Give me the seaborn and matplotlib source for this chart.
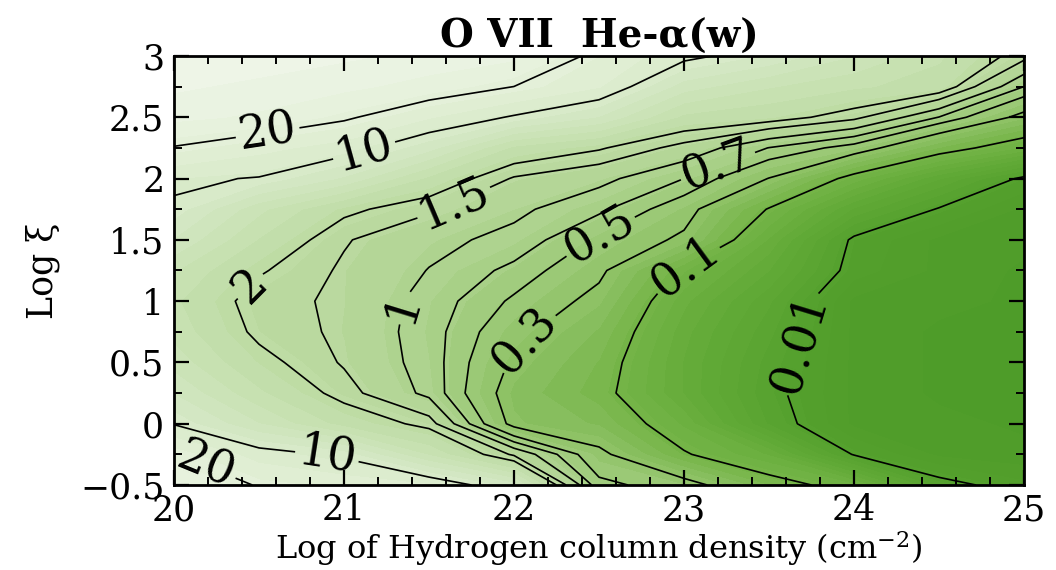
import numpy as np
import matplotlib
matplotlib.use("Agg")
import matplotlib.pyplot as plt
from matplotlib.ticker import MultipleLocator, FuncFormatter
import seaborn as sns

# Grid of log column density (x) and log ionisation parameter (y)
log_nh = [20.0, 20.5, 21.0, 21.5, 22.0, 22.5, 23.0, 23.5, 24.0, 24.5, 25.0]
log_xi = [-0.5, -0.25, 0.0, 0.25, 0.5, 0.75, 1.0, 1.25, 1.5, 1.75,
          2.0, 2.25, 2.5, 2.75, 3.0]

# log10 of the line ratio on that grid (one row per log xi value)
log_ratio = [
    [1.50, 1.284, 1.22, 1.15, 0.85, -0.25, -0.40, -0.85, -1.15, -1.90, -2.13],
    [1.31, 1.08, 0.966, 0.57, 0.15, -0.45, -0.97, -1.30, -2.02, -2.30, -2.35],
    [0.99, 0.70, 0.43, 0.25, -0.60, -0.75, -1.20, -1.85, -2.30, -2.35, -2.40],
    [0.80, 0.50, 0.238, -0.044, -0.65, -0.90, -1.40, -1.92, -2.30, -2.40, -2.40],
    [0.65, 0.361, 0.16, -0.069, -0.56, -0.85, -1.40, -1.88, -2.30, -2.40, -2.40],
    [0.55, 0.26, 0.146, -0.082, -0.45, -0.75, -1.35, -1.80, -2.30, -2.40, -2.40],
    [0.50, 0.224, 0.151, -0.065, -0.33, -0.60, -1.25, -1.70, -2.30, -2.35, -2.40],
    [0.60, 0.32, 0.153, -0.006, -0.20, -0.47, -1.05, -1.50, -2.10, -2.30, -2.40],
    [0.80, 0.47, 0.19, 0.05, -0.05, -0.33, -0.57, -1.30, -2.05, -2.30, -2.35],
    [0.976, 0.62, 0.344, 0.20, 0.04, -0.12, -0.42, -1.02, -1.63, -2.02, -2.30],
    [1.03, 0.99, 0.79, 0.45, 0.16, 0.05, -0.155, -0.53, -1.11, -1.60, -2.05],
    [1.29, 1.18, 1.08, 0.85, 0.45, 0.32, 0.12, -0.16, -0.376, -0.85, -1.20],
    [1.50, 1.45, 1.33, 1.15, 0.98, 0.80, 0.45, 0.38, 0.22, -0.16, -0.60],
    [1.60, 1.55, 1.50, 1.42, 1.30, 1.15, 0.75, 0.60, 0.50, 0.42, -0.155],
    [1.70, 1.65, 1.60, 1.55, 1.50, 1.25, 1.05, 0.90, 0.70, 0.50, 0.23],
]

# Contour levels (ratio values) and their printed labels
ratio_levels = [0.01, 0.1, 0.3, 0.5, 0.7, 1.0, 1.5, 2.0, 10.0, 20.0]
level_labels = ["0.01", "0.1", "0.3", "0.5", "0.7", "1", "1.5", "2", "10", "20"]

# Where each label sits along its contour
label_spots = {
    "20": [(20.55, 2.38), (20.2, -0.3)],
    "10": [(21.12, 2.22), (20.9, -0.26)],
    "2": [(20.45, 1.12)],
    "1.5": [(21.62, 1.88)],
    "1": [(21.35, 0.95)],
    "0.7": [(23.2, 2.1)],
    "0.5": [(22.5, 1.55)],
    "0.3": [(22.05, 0.7)],
    "0.1": [(23.0, 1.3)],
    "0.01": [(23.72, 0.64)],
}

sns.set_style("ticks")
plt.rcParams["font.family"] = ["DejaVu Serif"]
plt.rcParams["mathtext.fontset"] = "dejavuserif"
plt.rcParams["axes.unicode_minus"] = True
for key in ("text.color", "axes.labelcolor", "xtick.color", "ytick.color",
            "xtick.labelcolor", "ytick.labelcolor", "axes.titlecolor"):
    plt.rcParams[key] = "black"

fig = plt.figure(figsize=(10.56, 5.70), dpi=100)
ax = fig.add_axes([0.1648, 0.1491, 0.8049, 0.7527])
ax.set_axisbelow(False)

X, Y = np.meshgrid(log_nh, log_xi)
Z = np.array(log_ratio)

greens = sns.blend_palette(
    ["#4c9b28", "#54a02d", "#62aa37", "#76b549", "#98c771",
     "#b7d89b", "#cde4ba", "#e2efd6", "#f3f8ee"],
    as_cmap=True,
)
fill_levels = np.linspace(-2.6, 1.8, 41)
ax.contourf(X, Y, Z, levels=fill_levels, cmap=greens, extend="both")

# One contour set per level so each label lands on its own line
for value, text in zip(ratio_levels, level_labels):
    cs = ax.contour(X, Y, Z, levels=[np.log10(value)], colors="black",
                    linewidths=1.2, linestyles="solid")
    spots = label_spots.get(text, [])
    if spots:
        ax.clabel(cs, manual=spots, fmt={cs.levels[0]: text}, fontsize=33,
                  inline=True, inline_spacing=3)

ax.set_xlim(20, 25)
ax.set_ylim(-0.5, 3)
ax.xaxis.set_major_locator(MultipleLocator(1))
ax.xaxis.set_minor_locator(MultipleLocator(0.2))
ax.yaxis.set_major_locator(MultipleLocator(0.5))
ax.yaxis.set_minor_locator(MultipleLocator(0.25))
tick_fmt = FuncFormatter(lambda v, p: f"{v:g}".replace("-", "\u2212"))
ax.xaxis.set_major_formatter(tick_fmt)
ax.yaxis.set_major_formatter(tick_fmt)
ax.tick_params(which="both", direction="in", top=True, right=True,
               colors="black", labelsize=25)
ax.tick_params(which="major", length=11, width=1.6)
ax.tick_params(which="minor", length=6, width=1.4)
ax.tick_params(axis="x", which="major", pad=6)
ax.tick_params(axis="y", which="major", pad=7)
for sp in ax.spines.values():
    sp.set_linewidth(2.0)
    sp.set_color("black")
    sp.set_zorder(5)

ax.set_title("O VII  He-\u03b1(w)", fontsize=28, fontweight="bold", pad=3)
ax.set_xlabel("Log of Hydrogen column density (cm$^{\\mathregular{-2}}$)",
              fontsize=23, labelpad=1)
ax.set_ylabel("Log \u03be", fontsize=25, labelpad=14)

fig.savefig("out.png", dpi=100)
